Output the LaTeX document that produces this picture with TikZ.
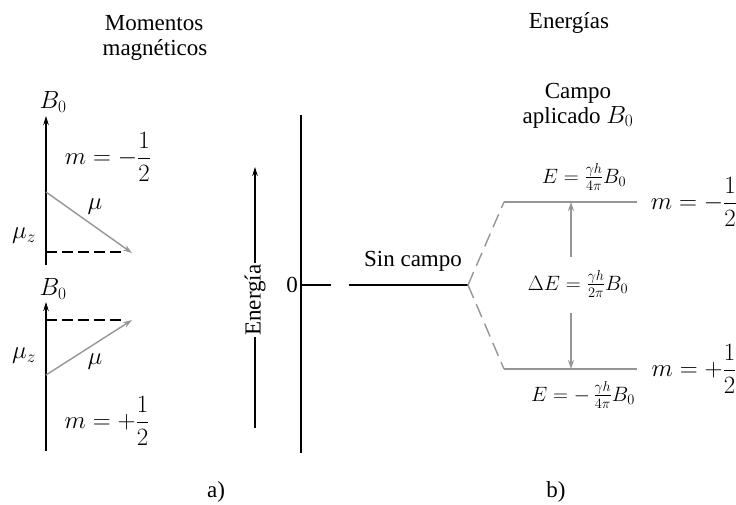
\documentclass[tikz,border=0pt]{standalone}
\usepackage{amsmath}
\usepackage{fontspec}
\setmainfont{Liberation Serif}
\usetikzlibrary{arrows.meta}
\definecolor{lgray}{RGB}{150,150,150}
\tikzset{
  axis/.style={line width=1.1pt,-{Stealth[length=9pt,width=5.5pt]}},
  garrow/.style={lgray,line width=1.4pt,-{Stealth[length=9pt,width=6pt]}},
  dash line/.style={line width=1.1pt,dash pattern=on 11pt off 5pt},
  gdash/.style={lgray,line width=1.4pt,dash pattern=on 14pt off 7pt},
  level/.style={lgray,line width=1.4pt},
  lbl/.style={inner sep=1pt,font=\fontsize{23}{26}\selectfont},
  mlbl/.style={inner sep=1pt,font=\fontsize{23.5}{26}\selectfont},
  elbl/.style={inner sep=0.5pt,font=\fontsize{21}{24}\selectfont},
}
\begin{document}
\begin{tikzpicture}[x=1pt,y=-1pt]
\useasboundingbox (0,0) rectangle (736,504);
% titles
\node[lbl,anchor=base] (t1) at (154,30) {Momentos};
\node[lbl,anchor=base] (t1b) at (155,55) {magnéticos};
\node[lbl,anchor=base] (t2) at (569,28) {Energías};
% top-left panel
\coordinate (a1b) at (46,265);
\coordinate (a1t) at (46,116);
\draw[axis] (a1b) -- (a1t);
\node[mlbl] (b01) at (53,102) {$B_0$};
\node[mlbl] (m1) at (108,157) {$m = -\dfrac{1}{2}$};
\coordinate (mu1s) at (46,192);
\coordinate (mu1e) at (132,253);
\draw[garrow] (mu1s) -- (mu1e);
\coordinate (d1s) at (46,252);
\coordinate (d1e) at (124,252);
\draw[dash line] (d1s) -- (d1e);
\node[mlbl] (mu1) at (95,207) {$\mu$};
\node[mlbl] (muz1) at (24,236) {$\mu_z$};
% bottom-left panel
\coordinate (a2b) at (46,451);
\coordinate (a2t) at (46,302);
\draw[axis] (a2b) -- (a2t);
\node[mlbl] (b02) at (53,289) {$B_0$};
\coordinate (d2s) at (46,320);
\coordinate (d2e) at (124,320);
\draw[dash line] (d2s) -- (d2e);
\coordinate (mu2s) at (46,375);
\coordinate (mu2e) at (132,320);
\draw[garrow] (mu2s) -- (mu2e);
\node[mlbl] (muz2) at (24,356) {$\mu_z$};
\node[mlbl] (mu2) at (95,362) {$\mu$};
\node[mlbl] (m2) at (107,421) {$m = +\dfrac{1}{2}$};
% energy axis
\coordinate (eb) at (255,428);
\coordinate (et) at (255,167);
\draw[axis] (eb) -- (et);
\node[lbl,rotate=90,fill=white,inner sep=1pt] (en) at (255,300) {Energía};
% main vertical line
\coordinate (vt) at (301,115);
\coordinate (vb) at (301,453);
\draw[line width=1.1pt] (vt) -- (vb);
\node[lbl,anchor=east] (zero) at (299,285) {0};
\coordinate (z0) at (301,285);
\coordinate (z1) at (331,285);
\coordinate (z2) at (349,285);
\coordinate (sp) at (468,285);
\draw[line width=1.1pt] (z0) -- (z1);
\draw[line width=1.1pt] (z2) -- (sp);
\node[lbl] (sc) at (413,261) {Sin campo};
% split
\coordinate (u0) at (504,202);
\coordinate (u1) at (637,202);
\coordinate (l0) at (504,369);
\coordinate (l1) at (637,369);
\draw[gdash] (sp) -- (u0);
\draw[gdash] (sp) -- (l0);
\draw[level] (u0) -- (u1);
\draw[level] (l0) -- (l1);
\coordinate (ar1) at (571,257);
\coordinate (ar2) at (571,313);
\coordinate (au) at (571,202);
\coordinate (al) at (571,369);
\draw[garrow] (ar1) -- (au);
\draw[garrow] (ar2) -- (al);
\node[elbl] (de) at (578,284) {$\Delta E = \frac{\gamma h}{2\pi} B_0$};
\node[elbl] (eu) at (584,177) {$E = \frac{\gamma h}{4\pi} B_0$};
\node[elbl] (el) at (583,395) {$E = -\,\frac{\gamma h}{4\pi} B_0$};
\node[mlbl] (mr1) at (694,202) {$m = -\dfrac{1}{2}$};
\node[mlbl] (mr2) at (694,369) {$m = +\dfrac{1}{2}$};
\node[lbl,anchor=base] (ca) at (578,98) {Campo};
\node[lbl,anchor=base] (cab) at (578,123) {aplicado $B_0$};
% captions
\node[lbl,anchor=base] (ca1) at (216,497) {a)};
\node[lbl,anchor=base] (cb1) at (556,497) {b)};
\end{tikzpicture}
\end{document}
